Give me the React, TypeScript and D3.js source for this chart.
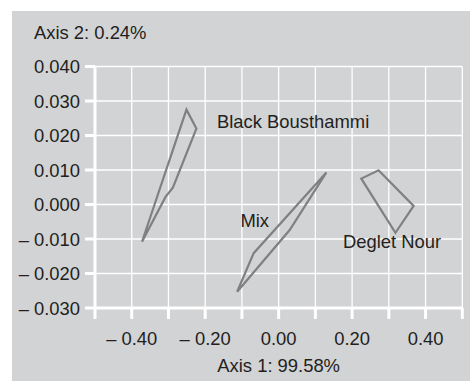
import React from "react";
import * as d3 from "d3";

// polygons (outlines per group)
const blackBousthammi: [number, number][] = [
  [-0.251, 0.0275],
  [-0.224, 0.022],
  [-0.288, 0.0049],
  [-0.308, 0.0022],
  [-0.372, -0.0108],
];
const mix: [number, number][] = [
  [0.13, 0.0093],
  [0.03, -0.0074],
  [-0.113, -0.0253],
  [-0.068, -0.0141],
];
const degletNour: [number, number][] = [
  [0.225, 0.0075],
  [0.272, 0.0099],
  [0.3675, -0.0004],
  [0.318, -0.0082],
];
const groups = [blackBousthammi, mix, degletNour];

const groupNames = ["Black Bousthammi", "Mix", "Deglet Nour"];
const labelX = [-0.168, -0.104, 0.175];
const labelY = [0.0222, -0.0065, -0.01275];

const xTicks = [-0.4, -0.2, 0, 0.2, 0.4];
const xGrid = [-0.4, -0.3, -0.2, -0.1, 0, 0.1, 0.2, 0.3, 0.4, 0.5];
const yTicks = [-0.03, -0.02, -0.01, 0, 0.01, 0.02, 0.03, 0.04];

const xTitle = "Axis 1: 99.58%";
const yTitle = "Axis 2: 0.24%";

const W = 470;
const H = 381;
const plot = { left: 95, right: 462.3, top: 66.5, bottom: 308 };
const bg = "#d2d3d5";
const ink = "#231f20";
const font = "'Liberation Sans', Arial, sans-serif";
const fs = 18.4;

const fmt = (v: number, digits: number) => {
  const s = Math.abs(v).toFixed(digits);
  return v < -1e-9 ? "\u2013 " + s : s;
};

const App = () => {
  const x = d3.scaleLinear().domain([-0.5, 0.5]).range([plot.left, plot.right]);
  const y = d3.scaleLinear().domain([-0.03, 0.04]).range([plot.bottom, plot.top]);
  const line = d3
    .line<[number, number]>()
    .x((d) => x(d[0]))
    .y((d) => y(d[1]))
    .curve(d3.curveLinearClosed);

  return (
    <svg
      width={W}
      height={H}
      style={{ position: "absolute", left: 0, top: 0 }}
      fontFamily={font}
    >
      <rect x={12} y={11} width={W - 12} height={H - 11} fill={bg} />

      {/* grid */}
      {xGrid.map((v) => (
        <line
          key={"gx" + v}
          x1={x(v)}
          x2={x(v)}
          y1={plot.top}
          y2={plot.bottom}
          stroke="#fff"
          strokeWidth={1.3}
        />
      ))}
      {yTicks.map((v) => (
        <line
          key={"gy" + v}
          x1={plot.left}
          x2={plot.right}
          y1={y(v)}
          y2={y(v)}
          stroke="#fff"
          strokeWidth={1.3}
        />
      ))}

      {/* axes */}
      <line x1={plot.left} x2={plot.left} y1={plot.top} y2={plot.bottom + 1.5} stroke="#fff" strokeWidth={3} />
      <line x1={plot.left - 1.5} x2={plot.right} y1={plot.bottom} y2={plot.bottom} stroke="#fff" strokeWidth={3} />
      {[-0.5, ...xGrid].map((v) => (
        <line
          key={"tx" + v}
          x1={x(v)}
          x2={x(v)}
          y1={plot.bottom}
          y2={plot.bottom + 11}
          stroke="#fff"
          strokeWidth={3}
        />
      ))}
      {yTicks.map((v) => (
        <line
          key={"ty" + v}
          x1={plot.left - 10}
          x2={plot.left}
          y1={y(v)}
          y2={y(v)}
          stroke="#fff"
          strokeWidth={3}
        />
      ))}

      {/* tick labels */}
      {xTicks.map((v) => (
        <text key={"lx" + v} x={x(v)} y={345} textAnchor="middle" fontSize={fs} fill={ink}>
          {fmt(v, 2)}
        </text>
      ))}
      {yTicks.map((v) => (
        <text
          key={"ly" + v}
          x={80}
          y={y(v)}
          dy="0.36em"
          textAnchor="end"
          fontSize={fs}
          fill={ink}
        >
          {fmt(v, 3)}
        </text>
      ))}

      <text x={x(0)} y={371.5} textAnchor="middle" fontSize={fs} fill={ink}>
        {xTitle}
      </text>
      <text x={34} y={39.3} fontSize={fs} fill={ink}>
        {yTitle}
      </text>

      {/* group outlines */}
      {groups.map((g, i) => (
        <path key={"p" + i} d={line(g) || ""} fill="none" stroke="#808080" strokeWidth={2.2} strokeLinejoin="miter" />
      ))}
      {groupNames.map((n, i) => (
        <text key={"n" + i} x={x(labelX[i])} y={y(labelY[i])} fontSize={fs} fill={ink}>
          {n}
        </text>
      ))}
    </svg>
  );
};

export default App;
